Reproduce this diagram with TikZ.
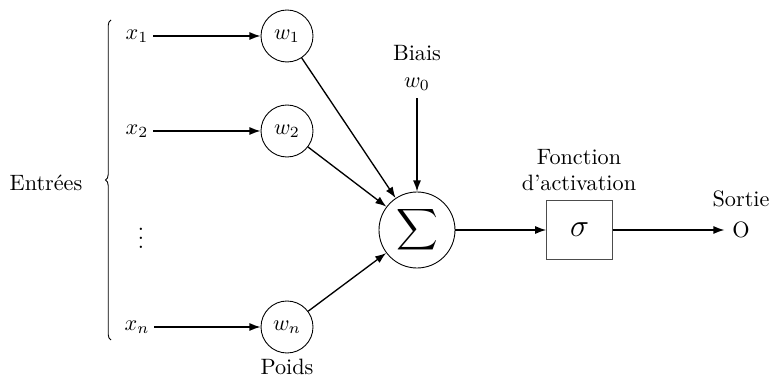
\documentclass[tikz,border=0pt]{standalone}
\usepackage{graphicx}
\usetikzlibrary{arrows.meta,decorations.pathreplacing}
\begin{document}
\begin{tikzpicture}[x=0.45pt,y=-0.45pt,
  conn/.style={-{Latex[length=5pt,width=3.6pt]},semithick},
  wcirc/.style={draw,circle,minimum size=23.4pt,inner sep=0pt},
  lbl/.style={inner sep=2pt}]
\useasboundingbox (0,0) rectangle (772,379);
\node[lbl] (x1) at (137,36) {$x_1$};
\node[lbl] (x2) at (137,131) {$x_2$};
\node[lbl] (xd) at (141,232) {$\vdots$};
\node[lbl] (xn) at (137,327) {$x_n$};
\node[wcirc] (w1) at (287,36) {$w_1$};
\node[wcirc] (w2) at (287,131) {$w_2$};
\node[wcirc] (wn) at (287,327) {$w_n$};
\node (poids) at (287,367) {Poids};
\node (entrees) at (46,183) {Entrées};
\coordinate (bb) at (111,340);
\coordinate (bt) at (111,20);
\draw[decorate,decoration={brace,amplitude=2.5pt}] (bb) -- (bt);
\node[draw,circle,minimum size=34.2pt,inner sep=0pt] (sum) at (417,230) {\scalebox{1.3}{$\displaystyle\sum$}};
\node (biais) at (417,53) {Biais};
\node (w0) at (417,84) {$w_0$};
\node[draw=black!70,minimum width=29.5pt,minimum height=26.5pt,inner sep=0pt] (act) at (579.5,230) {\Large$\sigma$};
\node[align=center,inner sep=0pt] (fct) at (579,170) {Fonction\\d'activation};
\node (out) at (741,230) {O};
\node (sortie) at (741,199) {Sortie};
\draw[conn] (x1) -- (w1);
\draw[conn] (x2) -- (w2);
\draw[conn] (xn) -- (wn);
\draw[conn] (w1) -- (sum);
\draw[conn] (w2) -- (sum);
\draw[conn] (wn) -- (sum);
\draw[conn] (w0) -- (sum);
\draw[conn] (sum) -- (act);
\draw[conn] (act) -- (out);
\end{tikzpicture}
\end{document}
